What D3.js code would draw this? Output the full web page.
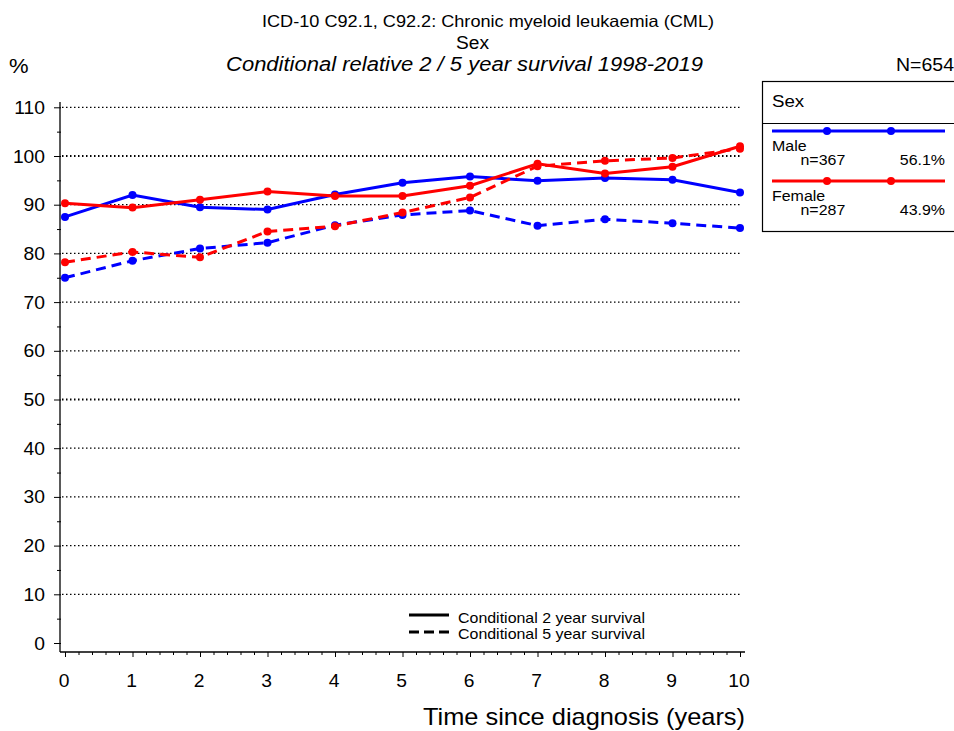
<!DOCTYPE html>
<html lang="en">
<head>
<meta charset="UTF-8">
<title>CML conditional survival</title>
<script src="https://d3js.org/d3.v7.min.js"></script>
<style>
    body { margin: 0; background: #fff; }
    text { font-family: "Liberation Sans", Arial, sans-serif; fill: #000; }
    .grid { stroke: #000; stroke-dasharray: 1.5,2.5; }
</style>
</head>
<body>
<script>

    var width = 954,
        height = 731;

    // data
    var years = [0, 1, 2, 3, 4, 5, 6, 7, 8, 9, 10];
    var male2 = [87.5, 92.0, 89.5, 89.0, 92.1, 94.5, 95.8, 94.9, 95.5, 95.1, 92.5];
    var male5 = [75.0, 78.5, 81.0, 82.2, 85.8, 87.9, 88.8, 85.7, 87.0, 86.2, 85.2];
    var female2 = [90.3, 89.4, 91.0, 92.7, 91.8, 91.8, 93.9, 98.4, 96.4, 97.8, 102.0];
    var female5 = [78.2, 80.3, 79.2, 84.5, 85.6, 88.4, 91.5, 97.9, 99.0, 99.6, 101.5];
    var yTicks = [0, 10, 20, 30, 40, 50, 60, 70, 80, 90, 100, 110];
    var groups = ["Male", "Female"];
    var groupN = ["n=367", "n=287"];
    var groupPct = ["56.1%", "43.9%"];
    var groupColors = ["#0000ff", "#ff0000"];

    var series = [
        { values: male2, color: groupColors[0], dashed: false },
        { values: male5, color: groupColors[0], dashed: true },
        { values: female2, color: groupColors[1], dashed: false },
        { values: female5, color: groupColors[1], dashed: true }
    ];

    var svg = d3.select("body").append("svg")
        .attr("width", width)
        .attr("height", height);

    var x = d3.scaleLinear().domain([0, 10]).range([65, 740]);
    var y = d3.scaleLinear().domain([0, 110]).range([643, 107.3]);

    // text in the original is a little wider than the local sans, so stretch it
    var STRETCH = 1.1;
    function label(parent, px, py, str, size, anchor, len) {
        var t = parent.append("text")
            .style("font-size", size + "px")
            .attr("text-anchor", anchor || "start")
            .text(str);
        if (len) {
            t.attr("x", px).attr("y", py)
                .attr("textLength", len).attr("lengthAdjust", "spacingAndGlyphs");
        } else {
            t.attr("transform", "translate(" + px + "," + py + ") scale(" + STRETCH + ",1)");
        }
        return t;
    }

    // titles
    label(svg, 262, 27, "ICD-10 C92.1, C92.2: Chronic myeloid leukaemia (CML)", 16.5, "start", 452);
    label(svg, 456, 49, "Sex", 18, "start", 33);
    label(svg, 226, 71, "Conditional relative 2 / 5 year survival 1998-2019", 19.5, "start", 477)
        .style("font-style", "italic");
    label(svg, 9, 73, "%", 20);
    label(svg, 896, 71, "N=654", 18, "start", 58);

    // gridlines
    svg.selectAll(".grid").data(yTicks.filter(function(d) { return d > 0; }))
        .enter().append("line")
        .attr("class", "grid")
        .attr("x1", 62).attr("x2", 742)
        .attr("y1", function(d) { return y(d); })
        .attr("y2", function(d) { return y(d); })
        .style("stroke-width", function(d) { return (d === 100 || d === 50) ? 2 : 1.2; });

    // y axis
    var yAxis = svg.append("g").attr("transform", "translate(61,0)");
    yAxis.call(d3.axisLeft(y).tickValues(d3.range(0, 111, 5)).tickSize(4).tickFormat(""));
    yAxis.select(".domain").remove();
    yAxis.selectAll(".tick line").attr("stroke", "#000");
    yAxis.selectAll(".tick").filter(function(d) { return d % 10 === 0; })
        .select("line").attr("x2", -7);
    yAxis.append("line").attr("x1", -1).attr("x2", -1).attr("y1", 102).attr("y2", 652)
        .attr("stroke", "#000").attr("stroke-width", 1.3);
    yTicks.forEach(function(d) {
        label(svg, 45, y(d) + 6.5, String(d), 17.5, "end");
    });

    // x axis
    var xAxis = svg.append("g").attr("transform", "translate(0,652)");
    xAxis.call(d3.axisBottom(x).tickValues(d3.range(0, 10.01, 0.2)).tickSize(3).tickFormat(""));
    xAxis.select(".domain").remove();
    xAxis.selectAll(".tick line").attr("stroke", "#000");
    xAxis.selectAll(".tick").filter(function(d) { return Math.abs(d - Math.round(d)) < 1e-6; })
        .select("line").attr("y2", 5);
    xAxis.append("line").attr("x1", 60).attr("x2", 745).attr("y1", 0).attr("y2", 0)
        .attr("stroke", "#000").attr("stroke-width", 1.3);
    years.forEach(function(d) {
        label(svg, x(d) - 1, 687, String(d), 17.5, "middle");
    });
    label(svg, 423, 725, "Time since diagnosis (years)", 24, "start", 322);

    // series
    var line = d3.line()
        .x(function(d, i) { return x(years[i]); })
        .y(function(d) { return y(d); });

    series.forEach(function(s) {
        svg.append("path").datum(s.values)
            .attr("d", line)
            .attr("fill", "none")
            .attr("stroke", s.color)
            .attr("stroke-width", 3)
            .attr("stroke-dasharray", s.dashed ? "10,6" : null);
        svg.selectAll(null).data(s.values).enter().append("circle")
            .attr("cx", function(d, i) { return x(years[i]); })
            .attr("cy", function(d) { return y(d); })
            .attr("r", 4)
            .attr("fill", s.color);
    });

    // bottom legend
    var lg = svg.append("g");
    lg.append("line").attr("x1", 409).attr("x2", 449).attr("y1", 615).attr("y2", 615)
        .attr("stroke", "#000").attr("stroke-width", 3);
    lg.append("line").attr("x1", 409).attr("x2", 449).attr("y1", 632).attr("y2", 632)
        .attr("stroke", "#000").attr("stroke-width", 3).attr("stroke-dasharray", "10,5");
    label(lg, 458, 623, "Conditional 2 year survival", 14.5, "start", 187);
    label(lg, 458, 639, "Conditional 5 year survival", 14.5, "start", 187);

    // group legend box
    var box = svg.append("g");
    box.append("rect").attr("x", 762.5).attr("y", 81.5).attr("width", 200).attr("height", 150)
        .attr("fill", "none").attr("stroke", "#000").attr("stroke-width", 1.2);
    box.append("line").attr("x1", 762).attr("x2", 954).attr("y1", 123.5).attr("y2", 123.5)
        .attr("stroke", "#000").attr("stroke-width", 1);
    label(box, 772, 107, "Sex", 17);

    groups.forEach(function(g, i) {
        var top = 131 + i * 50;
        box.append("line").attr("x1", 772).attr("x2", 945).attr("y1", top).attr("y2", top)
            .attr("stroke", groupColors[i]).attr("stroke-width", 3);
        [827, 891].forEach(function(cx) {
            box.append("circle").attr("cx", cx).attr("cy", top).attr("r", 4).attr("fill", groupColors[i]);
        });
        label(box, 772, top + 20, g, 14.5);
        label(box, 800.5, top + 34, groupN[i], 14.5);
        label(box, 945, top + 34, groupPct[i], 14.5, "end");
    });

</script>
</body>
</html>
